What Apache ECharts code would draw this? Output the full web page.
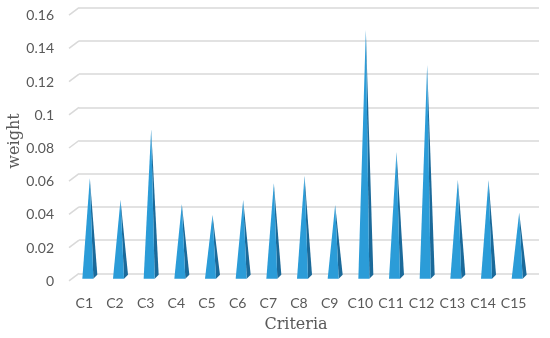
<!DOCTYPE html>
<html>
<head>
<meta charset="utf-8">
<script src="https://cdn.jsdelivr.net/npm/echarts@6/dist/echarts.min.js"></script>
<style>html,body{margin:0;padding:0;background:#fff;}#c{width:550px;height:338px;}</style>
</head>
<body>
<div id="c"></div>
<script>
const categories = ['C1','C2','C3','C4','C5','C6','C7','C8','C9','C10','C11','C12','C13','C14','C15'];
const weights = [0.0593, 0.0463, 0.0889, 0.0437, 0.0372, 0.0463, 0.0563, 0.0609, 0.0433, 0.1487, 0.0754, 0.1276, 0.0583, 0.0583, 0.0386];
const yTicks = [0, 0.02, 0.04, 0.06, 0.08, 0.1, 0.12, 0.14, 0.16];
const yTitle = 'weight';
const xTitle = 'Criteria';

const chart = echarts.init(document.getElementById('c'), null, {renderer: 'canvas'});
const FRONT = '#2B9CD8', SIDE = '#1B6A9A', GRID = '#d9d9d9', LABEL = '#595959';

chart.setOption({
  animation: false,
  backgroundColor: '#fff',
  grid: [
    {left: 79, right: 11, top: 7.7, bottom: 64.7},
    {left: 69, right: 21, top: 15.7, bottom: 56.7}
  ],
  xAxis: [
    {type: 'category', gridIndex: 0, data: categories, axisLine: {show: false}, axisTick: {show: false}, axisLabel: {show: false}, splitLine: {show: false}},
    {type: 'category', gridIndex: 1, data: categories, axisLine: {show: false}, axisTick: {show: false},
      axisLabel: {show: true, interval: 0, margin: 15, color: LABEL, fontFamily: 'Lato', fontSize: 14}, splitLine: {show: false}}
  ],
  yAxis: [
    {type: 'value', gridIndex: 0, min: 0, max: 0.16, interval: 0.02, axisLine: {show: false}, axisTick: {show: false}, axisLabel: {show: false},
      splitLine: {show: true, lineStyle: {color: GRID, width: 1.5}}},
    {type: 'value', gridIndex: 1, min: 0, max: 0.16, interval: 0.02, axisLine: {show: false}, axisTick: {show: false},
      axisLabel: {show: true, margin: 15, color: LABEL, fontFamily: 'Lato', fontSize: 14}, splitLine: {show: false}}
  ],
  graphic: [
    {type: 'text', x: 15, y: 141, rotation: Math.PI/2, style: {text: yTitle, font: '16px "DejaVu Serif"', fill: LABEL, align: 'center', verticalAlign: 'middle'}},
    {type: 'text', x: 296, y: 325, style: {text: xTitle, font: '16px "DejaVu Serif"', fill: LABEL, align: 'center', verticalAlign: 'middle'}}
  ],
  series: [
    {
      type: 'custom', xAxisIndex: 0, yAxisIndex: 0, silent: true,
      data: yTicks.map(v => [0, v]),
      renderItem: function (params, api) {
        const p = api.coord([0, api.value(1)]);
        const x0 = params.coordSys.x;
        return {type: 'line', shape: {x1: x0 - 10, y1: p[1] + 7.5, x2: x0, y2: p[1]}, style: {stroke: GRID, lineWidth: 1.5}};
      }
    },
    {
      type: 'custom', xAxisIndex: 0, yAxisIndex: 0,
      data: weights.map((v, i) => [i, v]),
      renderItem: function (params, api) {
        const i = api.value(0), v = api.value(1);
        const base = api.coord([i, 0]);
        const top = api.coord([i, v]);
        const cx = base[0] - 4.5, cy = base[1] + 3.5;
        const tx = top[0] - 4.5, ty = top[1] + 3.5;
        const FL = [cx - 7.5, cy + 2], FR = [cx + 3.5, cy + 2], BR = [cx + 7.5, cy - 2];
        return {
          type: 'group',
          children: [
            {type: 'polygon', shape: {points: [FR, BR, [tx, ty]]}, style: {fill: SIDE}},
            {type: 'polygon', shape: {points: [FL, FR, [tx, ty]]}, style: {fill: FRONT}}
          ]
        };
      }
    }
  ]
});
</script>
</body>
</html>
